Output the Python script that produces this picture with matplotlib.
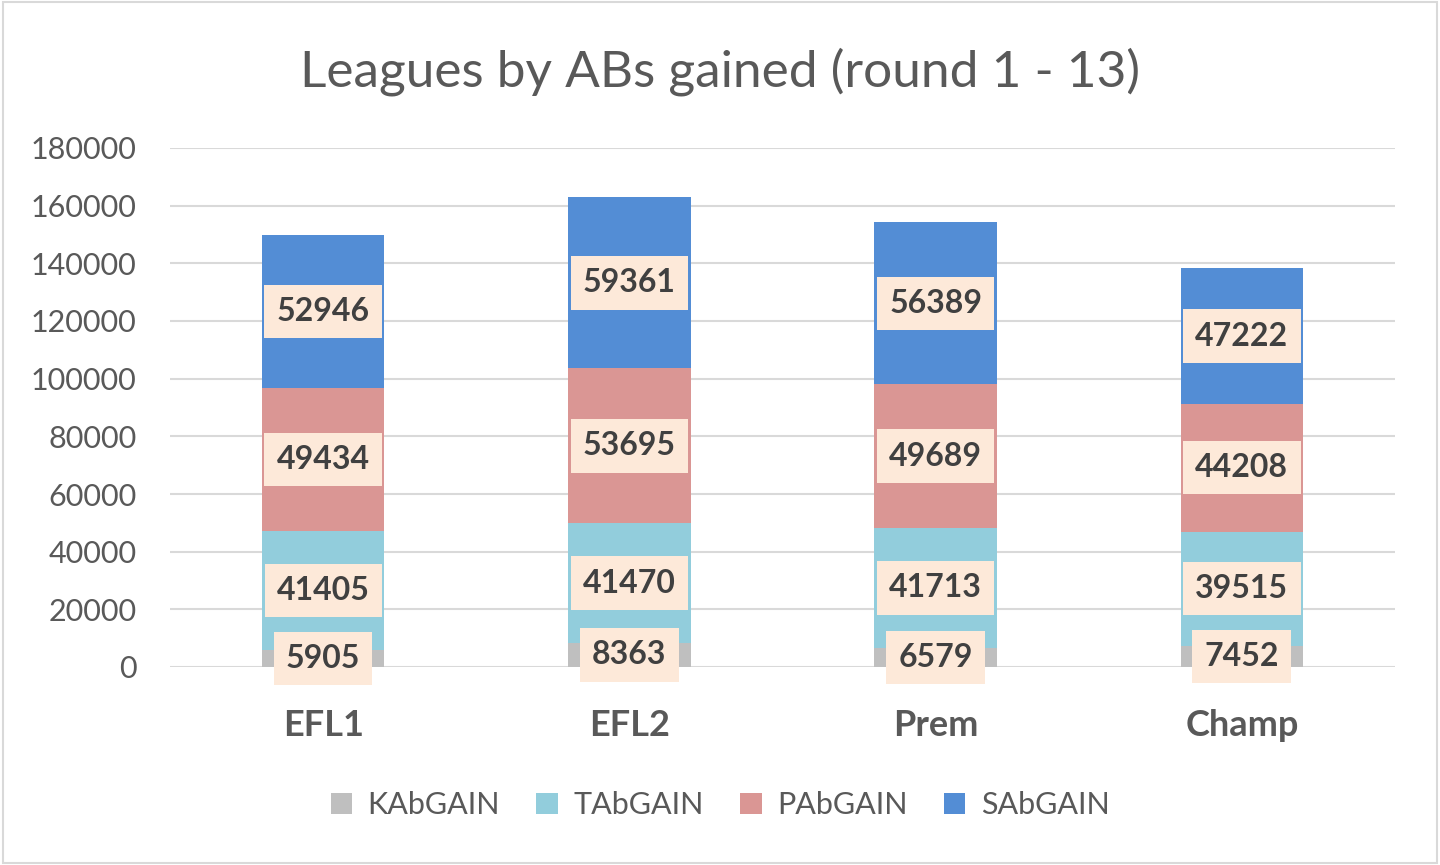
import matplotlib.pyplot as plt
import numpy as np

leagues = ["EFL1", "EFL2", "Prem", "Champ"]
kab = [5905, 8363, 6579, 7452]
tab = [41405, 41470, 41713, 39515]
pab = [49434, 53695, 49689, 44208]
sab = [52946, 59361, 56389, 47222]
series_names = ["KAbGAIN", "TAbGAIN", "PAbGAIN", "SAbGAIN"]
colors = ["#BFBFBF", "#92CDDC", "#DA9694", "#538DD5"]

plt.rcParams['font.family'] = ['Lato', 'DejaVu Sans']

fig = plt.figure(figsize=(14.4, 8.65), dpi=100)
ax = fig.add_axes([170 / 1440, 1 - 667 / 865, 1225 / 1440, 519 / 865])

x = np.arange(len(leagues))
bottom = np.zeros(len(leagues))
for name, vals, col in zip(series_names, [kab, tab, pab, sab], colors):
    bars = ax.bar(x, vals, 0.4, bottom=bottom, color=col, label=name, zorder=3)
    for xi, v, b in zip(x, vals, bottom):
        ax.text(xi, b + v / 2, str(v), ha="center", va="center", fontsize=23,
                fontweight="bold", color="#404040", zorder=5,
                bbox=dict(boxstyle="square,pad=0.38", fc="#FDE9D9", ec="none"))
    bottom += np.array(vals)

ax.set_xlim(-0.5, 3.5)
ax.set_ylim(0, 180000)
ax.set_yticks(range(0, 180001, 20000))
ax.yaxis.grid(True, color="#D9D9D9", linewidth=1.5, zorder=0)
ax.set_axisbelow(True)
for s in ax.spines.values():
    s.set_visible(False)
ax.tick_params(axis="y", length=0, labelsize=22, labelcolor="#595959", pad=24)
ax.tick_params(axis="x", length=0, pad=30)
ax.set_xticks(x)
ax.set_xticklabels(leagues, fontsize=26, fontweight="bold", color="#595959")

fig.suptitle("Leagues by ABs gained (round 1 - 13)", y=0.945, fontsize=37, color="#595959")

leg = fig.legend(loc="center", bbox_to_anchor=(0.5, 1 - 805 / 865), ncol=4, frameon=False,
                 fontsize=22, handlelength=0.7, handleheight=0.7, columnspacing=1.2,
                 handletextpad=0.5)
for t in leg.get_texts():
    t.set_color("#595959")

fig.patches.append(plt.Rectangle((0.002, 0.002), 0.996, 0.996, transform=fig.transFigure,
                                 fill=False, ec="#D9D9D9", lw=1.5))

fig.savefig("out.png", dpi=100, facecolor="white")
